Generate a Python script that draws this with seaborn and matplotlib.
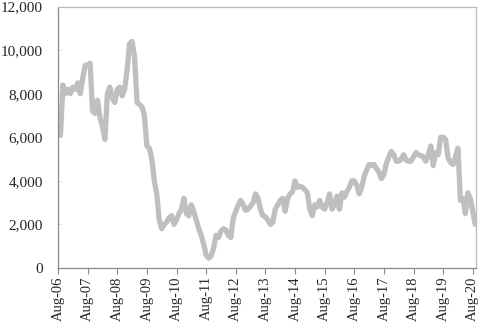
# Importing necessary libraries
import pandas as pd
import seaborn as sns
import numpy as np
import matplotlib.pyplot as plt

# Monthly values, Aug-06 .. Sep-20 (one list per year, Aug to Jul)
y2006 = [6600, 6100, 8400, 8000, 8200, 8000, 8300, 8200, 8500, 8000, 8700, 9300]
y2007 = [9300, 9400, 7200, 7100, 7700, 6900, 6500, 5900, 8000, 8300, 7800, 7600]
y2008 = [8200, 8300, 7900, 8200, 9100, 10300, 10400, 9700, 7600, 7500, 7400, 7000]
y2009 = [5600, 5500, 5000, 4000, 3400, 2200, 1800, 2000, 2100, 2300, 2400, 2000]
y2010 = [2200, 2500, 2700, 3200, 2500, 2400, 2900, 2600, 2200, 1800, 1500, 1100]
y2011 = [600, 450, 550, 900, 1500, 1400, 1700, 1800, 1750, 1500, 1400, 2300]
y2012 = [2600, 2900, 3100, 2900, 2650, 2700, 2850, 3000, 3400, 3200, 2700, 2400]
y2013 = [2350, 2200, 2000, 2100, 2700, 2900, 3100, 3200, 2600, 3200, 3400, 3500]
y2014 = [4000, 3700, 3750, 3700, 3600, 3450, 2700, 2400, 2900, 2800, 3100, 2800]
y2015 = [2700, 3000, 3400, 2700, 2900, 3300, 2700, 3450, 3250, 3500, 3700, 4000]
y2016 = [4000, 3800, 3400, 3700, 4200, 4500, 4750, 4700, 4750, 4550, 4400, 4100]
y2017 = [4300, 4800, 5100, 5350, 5200, 4900, 4900, 5000, 5200, 4950, 4900, 4900]
y2018 = [5100, 5300, 5200, 5150, 5100, 4900, 5200, 5600, 4700, 5300, 5200, 6000]
y2019 = [6000, 5900, 5050, 4850, 4750, 5100, 5500, 3100, 3200, 2500, 3450, 3200]
y2020 = [2600, 2000]

values = y2006 + y2007 + y2008 + y2009 + y2010 + y2011 + y2012 + y2013 + y2014 + y2015 + y2016 + y2017 + y2018 + y2019 + y2020
tick_labels = ['Aug-06', 'Aug-07', 'Aug-08', 'Aug-09', 'Aug-10', 'Aug-11', 'Aug-12', 'Aug-13',
               'Aug-14', 'Aug-15', 'Aug-16', 'Aug-17', 'Aug-18', 'Aug-19', 'Aug-20']

df = pd.DataFrame({'month': np.arange(len(values)), 'value': values})

# Style
sns.set_style("white")
plt.rcParams['font.family'] = ['Liberation Serif', 'DejaVu Serif']

fig = plt.figure(figsize=(4.85, 3.28), dpi=100)
ax = fig.add_axes([0.1196, 0.183, 0.8618, 0.797])

# Thick grey line
sns.lineplot(data=df, x='month', y='value', ax=ax, color='#bfbfbf', linewidth=3.8,
             solid_capstyle='round', solid_joinstyle='round')

# Axes limits and ticks
ax.set_xlim(0, 169.3)
ax.set_ylim(0, 12000)
ax.set_xticks(np.arange(0, 12 * len(tick_labels), 12))
ax.set_xticklabels(tick_labels, rotation=90, fontsize=10.5)
ax.set_yticks(np.arange(0, 12001, 2000))
ax.set_yticklabels([f'{v:,}' for v in range(0, 12001, 2000)], fontsize=11)
ax.set_xlabel('')
ax.set_ylabel('')

ax.tick_params(axis='x', direction='out', length=4, width=0.8, color='#888888', pad=2, bottom=True)
ax.tick_params(axis='y', direction='in', length=3, width=0.6, color='#dddddd', pad=11, left=True)

# Spines: darker axis lines, light plot-area border
for side in ['left', 'bottom']:
    ax.spines[side].set_color('#888888')
    ax.spines[side].set_linewidth(0.9)
for side in ['top', 'right']:
    ax.spines[side].set_color('#bbbbbb')
    ax.spines[side].set_linewidth(0.9)

plt.savefig('out.png', dpi=100)
